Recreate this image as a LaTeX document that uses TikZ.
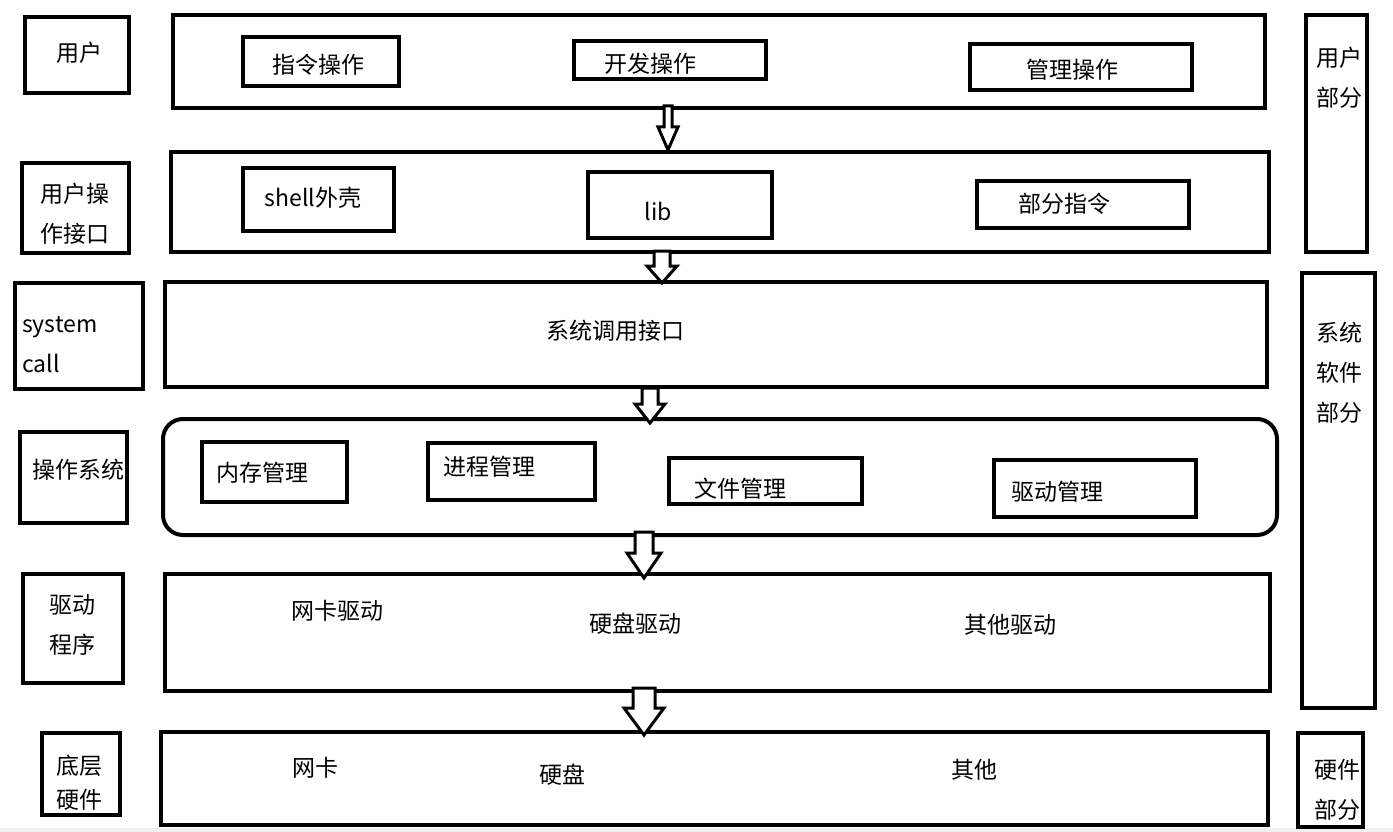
\documentclass[tikz,border=0pt]{standalone}
\usepackage{fontspec}
\setmainfont{Noto Sans CJK SC}
\usetikzlibrary{fit}

\begin{document}
\begin{tikzpicture}[
    x=1pt, y=-1pt,
    box/.style={draw, line width=4pt, inner sep=0pt},
    roundrow/.style={box, rounded corners=20pt},
    txt/.style={font=\fontsize{23}{27}\selectfont, inner sep=0pt},
    twoline/.style={txt, align=center, font=\fontsize{23}{40}\selectfont},
    blockarr/.style={draw, fill=white, line width=3pt, line join=miter},
  ]
  \useasboundingbox (0,0) rectangle (1393,832);
  \fill[gray!12] (0,828) rectangle (1393,832);

  % layer names on the left
  \node[box, fit={(25,17) (129,93)}] (lbluser) {};
  \node[txt] (tuser) at (79,53) {用户};
  \node[box, fit={(22,163) (129,253)}] (lblapi) {};
  \node[twoline] (tapi) at (75,214) {用户操\\作接口};
  \node[box, fit={(15,283) (143,389)}] (lblcall) {};
  \node[twoline, align=left, anchor=west] (tcall) at (22,345) {system\\call};
  \node[box, fit={(20,432) (127,523)}] (lblos) {};
  \node[txt] (tos) at (78,470) {操作系统};
  \node[box, fit={(23,574) (123,683)}] (lbldrv) {};
  \node[twoline] (tdrv) at (72,625) {驱动\\程序};
  \node[box, fit={(42,733) (120,815)}] (lblhw) {};
  \node[twoline, font=\fontsize{23}{34}\selectfont] (thw) at (79,783) {底层\\硬件};

  % user layer
  \node[box, fit={(173,15) (1265,108)}] (rowuser) {};
  \node[box, fit={(243,37) (399,86)}] (cmd) {};
  \node[txt] (tcmd) at (318,65) {指令操作};
  \node[box, fit={(574,41) (766,79)}] (dev) {};
  \node[txt] (tdev) at (650,64) {开发操作};
  \node[box, fit={(970,44) (1192,90)}] (mgmt) {};
  \node[txt] (tmgmt) at (1072,70) {管理操作};

  % user interface layer
  \node[box, fit={(171,152) (1269,252)}] (rowapi) {};
  \node[box, fit={(243,168) (394,231)}] (shell) {};
  \node[txt] (tshell) at (313,198) {shell外壳};
  \node[box, fit={(588,172) (772,238)}] (lib) {};
  \node[txt] (tlib) at (658,211) {lib};
  \node[box, fit={(977,181) (1189,228)}] (partcmd) {};
  \node[txt] (tpartcmd) at (1064,204) {部分指令};

  % system call layer
  \node[box, fit={(165,282) (1267,387)}] (rowcall) {};
  \node[txt] (tsyscall) at (615,331) {系统调用接口};

  % operating system layer
  \node[roundrow, fit={(163,419) (1277,535)}] (rowos) {};
  \node[box, fit={(202,442) (347,502)}] (mem) {};
  \node[txt] (tmem) at (262,473) {内存管理};
  \node[box, fit={(428,443) (595,500)}] (proc) {};
  \node[txt] (tproc) at (489,467) {进程管理};
  \node[box, fit={(669,458) (862,504)}] (file) {};
  \node[txt] (tfile) at (740,489) {文件管理};
  \node[box, fit={(994,460) (1196,517)}] (drvmgmt) {};
  \node[txt] (tdrvmgmt) at (1057,492) {驱动管理};

  % driver layer
  \node[box, fit={(165,574) (1270,691)}] (rowdrv) {};
  \node[txt] (tnicdrv) at (337,611) {网卡驱动};
  \node[txt] (tdiskdrv) at (635,624) {硬盘驱动};
  \node[txt] (totherdrv) at (1010,625) {其他驱动};

  % hardware layer
  \node[box, fit={(161,732) (1268,825)}] (rowhw) {};
  \node[txt] (tnic) at (315,768) {网卡};
  \node[txt] (tdisk) at (562,775) {硬盘};
  \node[txt] (tother) at (974,770) {其他};

  % parts on the right
  \node[box, fit={(1306,15) (1367,252)}] (partuser) {};
  \node[twoline] (tpartuser) at (1339,78) {用户\\部分};
  \node[box, fit={(1302,273) (1375,708)}] (partsys) {};
  \node[twoline] (tpartsys) at (1339,373) {系统\\软件\\部分};
  \node[box, fit={(1298,733) (1363,827)}] (parthw) {};
  \node[twoline] (tparthw) at (1337,790) {硬件\\部分};

  % hollow arrows between the layers
  \foreach \x/\yt/\yh/\yb/\s/\h in {668/106/127/150/4/10, 662/251/266/283/8/15,
      650/388/404/423/8/15, 644/532/553/578/9/17, 644/688/708/735/11/20}
    \draw[blockarr] (\x-\s,\yt) -- (\x-\s,\yh) -- (\x-\h,\yh) -- (\x,\yb)
      -- (\x+\h,\yh) -- (\x+\s,\yh) -- (\x+\s,\yt) -- cycle;
\end{tikzpicture}
\end{document}
